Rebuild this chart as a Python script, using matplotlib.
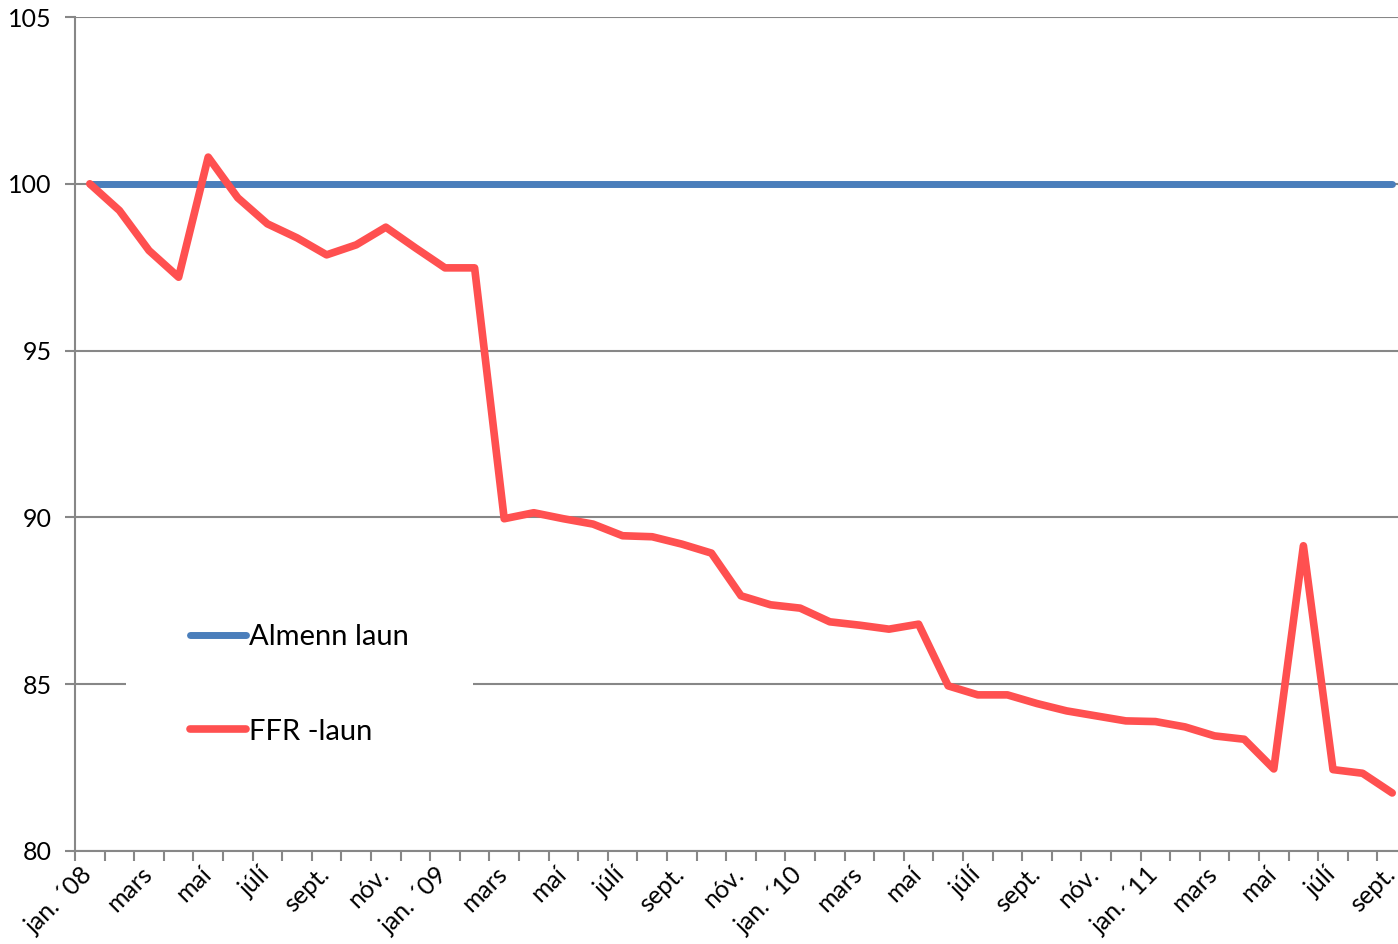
import matplotlib.pyplot as plt
import matplotlib.transforms as mtrans
import numpy as np

plt.rcParams['font.family'] = ['Lato', 'DejaVu Sans']

# index, jan 2008 = 100, monthly up to sept 2011
almenn = [100.0] * 45
ffr = [100.0, 99.2, 98.0, 97.2, 100.8, 99.58, 98.8, 98.38, 97.87, 98.17,
       98.7, 98.08, 97.48, 97.48, 89.96, 90.14, 89.96, 89.8, 89.45, 89.42,
       89.2, 88.93, 87.65, 87.38, 87.28, 86.87, 86.77, 86.65, 86.8, 84.95,
       84.68, 84.68, 84.42, 84.2, 84.05, 83.9, 83.88, 83.72, 83.45, 83.35,
       82.46, 89.15, 82.44, 82.33, 81.74]
tick_labels = ['jan. ´08', 'mars', 'maí', 'júlí', 'sept.', 'nóv.',
               'jan. ´09', 'mars', 'maí', 'júlí', 'sept.', 'nóv.',
               'jan. ´10', 'mars', 'maí', 'júlí', 'sept.', 'nóv.',
               'jan. ´11', 'mars', 'maí', 'júlí', 'sept.']

x = np.arange(len(ffr))
grey = '#878787'

fig = plt.figure(figsize=(13.98, 9.44), dpi=100)
# plot area runs a bit past the right edge of the picture
ax = fig.add_axes([75/1398, 93/944, 1332/1398, 834/944])

ax.plot(x, almenn, color='#4a7ebb', lw=5, solid_capstyle='round', label='Almenn laun', zorder=3)
ax.plot(x, ffr, color='#ff5050', lw=5.5, solid_capstyle='round', solid_joinstyle='round',
        label='FFR -laun', zorder=4)

ax.set_xlim(-0.5, len(ffr) - 0.5)
ax.set_ylim(80, 105)
ax.set_yticks(np.arange(80, 106, 5))
ax.yaxis.grid(True, color=grey, lw=1.5)
ax.set_axisbelow(True)

# ticks between categories, labels every second month
ax.set_xticks(np.arange(-0.5, len(ffr), 1), minor=True)
ax.set_xticks(x[::2])
ax.set_xticklabels(tick_labels, rotation=45, ha='right', va='center', rotation_mode='anchor')
ax.tick_params(axis='x', which='major', length=0, pad=14, labelsize=18)
ax.tick_params(axis='x', which='minor', length=7, width=1.5, color=grey)
ax.tick_params(axis='y', length=7, width=1.5, color=grey, labelsize=18, pad=10)
shift = mtrans.ScaledTranslation(-1/100, 0, fig.dpi_scale_trans)
for lab in ax.get_xticklabels():
    lab.set_transform(lab.get_transform() + shift)

for s in ['top', 'right']:
    ax.spines[s].set_visible(False)
for s in ['left', 'bottom']:
    ax.spines[s].set_color(grey)
    ax.spines[s].set_linewidth(1.5)

leg = ax.legend(loc='upper left', bbox_to_anchor=(0.0383, 0.349), frameon=True,
                fontsize=21, handlelength=1.9, handletextpad=0.12, labelspacing=2.35,
                borderpad=2.2, borderaxespad=0, fancybox=False)
leg.get_frame().set_edgecolor('none')
leg.get_frame().set_facecolor('white')
leg.get_frame().set_alpha(1)
leg.set_zorder(5)

fig.savefig('out.png', dpi=100)
